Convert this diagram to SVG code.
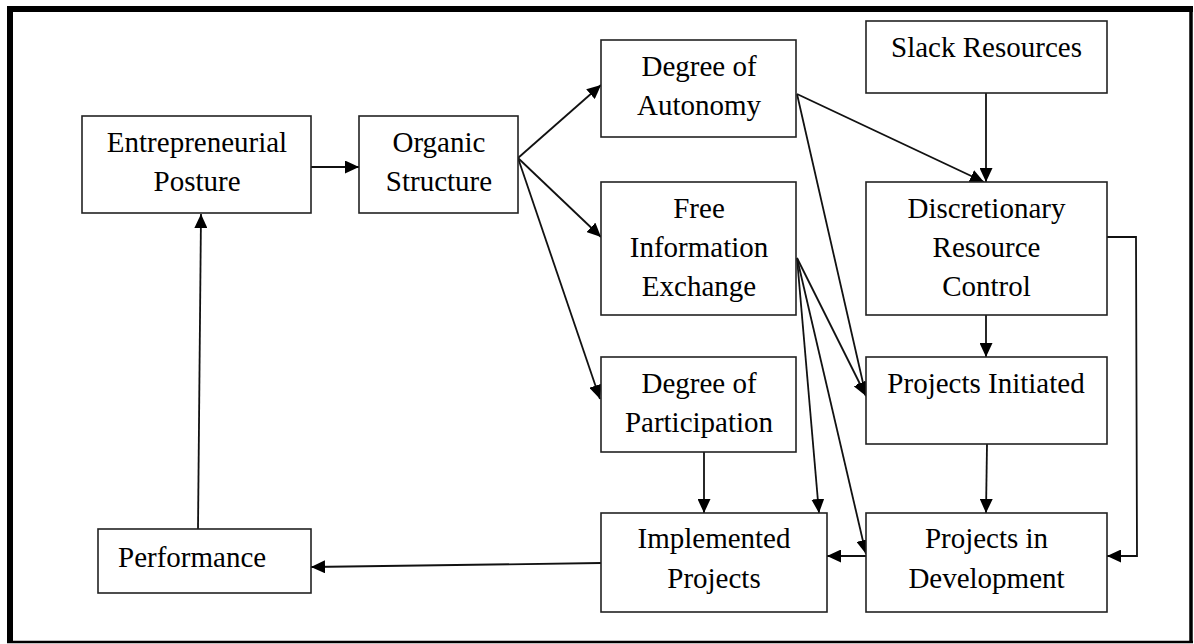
<svg xmlns="http://www.w3.org/2000/svg" width="1194" height="644" viewBox="0 0 1194 644">
<style>
.box{fill:#fff;stroke:#222;stroke-width:1.6}
.t{font-family:"Liberation Serif","Times New Roman",serif;font-size:29px;fill:#000;text-anchor:middle}
.c{fill:none;stroke:#111;stroke-width:1.8}
.frame{stroke:#000;fill:none}
</style>
<defs>
<marker id="ah" markerUnits="userSpaceOnUse" markerWidth="15" markerHeight="13" refX="14" refY="6.5" orient="auto">
<path d="M0,0 L14,6.5 L0,13 z" fill="#000"/>
</marker>
</defs>
<rect width="1194" height="644" fill="#fff"/>
<g id="frame">
<line class="frame" x1="10" y1="6" x2="10" y2="643" stroke-width="6"/>
<line class="frame" x1="7" y1="9" x2="1193" y2="9" stroke-width="6"/>
<line class="frame" x1="1191" y1="6" x2="1191" y2="643" stroke-width="3.5"/>
<line class="frame" x1="7" y1="642" x2="1193" y2="642" stroke-width="2.5"/>
</g>
<g id="connectors">
<line class="c" x1="311" y1="167" x2="359" y2="167" marker-end="url(#ah)"/>
<line class="c" x1="518" y1="158" x2="601" y2="85" marker-end="url(#ah)"/>
<line class="c" x1="518" y1="158" x2="601" y2="237" marker-end="url(#ah)"/>
<line class="c" x1="518" y1="158" x2="600" y2="399" marker-end="url(#ah)"/>
<line class="c" x1="198" y1="529" x2="201" y2="214" marker-end="url(#ah)"/>
<line class="c" x1="601" y1="563" x2="311" y2="567" marker-end="url(#ah)"/>
<line class="c" x1="986" y1="93" x2="986" y2="182" marker-end="url(#ah)"/>
<line class="c" x1="797" y1="94" x2="984" y2="182" marker-end="url(#ah)"/>
<line class="c" x1="797" y1="94" x2="866" y2="396" marker-end="url(#ah)"/>
<line class="c" x1="797" y1="258" x2="866" y2="396" marker-end="url(#ah)"/>
<line class="c" x1="797" y1="258" x2="819" y2="513" marker-end="url(#ah)"/>
<line class="c" x1="797" y1="258" x2="866" y2="554" marker-end="url(#ah)"/>
<line class="c" x1="986" y1="315" x2="986" y2="357" marker-end="url(#ah)"/>
<line class="c" x1="987" y1="444" x2="986" y2="513" marker-end="url(#ah)"/>
<polyline class="c" points="1107,237 1136,237 1137,556 1107,556" marker-end="url(#ah)"/>
<line class="c" x1="704" y1="452" x2="704" y2="513" marker-end="url(#ah)"/>
<line class="c" x1="866" y1="556" x2="827" y2="556" marker-end="url(#ah)"/>
</g>
<g id="entrepreneurial-posture">
<rect class="box" x="82" y="116" width="229" height="97"/>
<text class="t" x="197" y="152">Entrepreneurial</text>
<text class="t" x="197" y="191">Posture</text>
</g>
<g id="organic-structure">
<rect class="box" x="359" y="116" width="159" height="97"/>
<text class="t" x="439" y="152">Organic</text>
<text class="t" x="439" y="191">Structure</text>
</g>
<g id="degree-of-autonomy">
<rect class="box" x="601" y="40" width="195" height="97"/>
<text class="t" x="699" y="76">Degree of</text>
<text class="t" x="699" y="115">Autonomy</text>
</g>
<g id="slack-resources">
<rect class="box" x="866" y="21" width="241" height="72"/>
<text class="t" x="986.5" y="57">Slack Resources</text>
</g>
<g id="free-information-exchange">
<rect class="box" x="601" y="182" width="195" height="133"/>
<text class="t" x="699" y="218">Free</text>
<text class="t" x="699" y="257">Information</text>
<text class="t" x="699" y="296">Exchange</text>
</g>
<g id="discretionary-resource-control">
<rect class="box" x="866" y="182" width="241" height="133"/>
<text class="t" x="986.5" y="218">Discretionary</text>
<text class="t" x="986.5" y="257">Resource</text>
<text class="t" x="986.5" y="296">Control</text>
</g>
<g id="degree-of-participation">
<rect class="box" x="601" y="357" width="195" height="95"/>
<text class="t" x="699" y="393">Degree of</text>
<text class="t" x="699" y="432">Participation</text>
</g>
<g id="projects-initiated">
<rect class="box" x="866" y="357" width="241" height="87"/>
<text class="t" x="986" y="393">Projects Initiated</text>
</g>
<g id="implemented-projects">
<rect class="box" x="601" y="513" width="226" height="99"/>
<text class="t" x="714" y="548">Implemented</text>
<text class="t" x="714" y="588">Projects</text>
</g>
<g id="projects-in-development">
<rect class="box" x="866" y="513" width="241" height="99"/>
<text class="t" x="986.5" y="548">Projects in</text>
<text class="t" x="986.5" y="588">Development</text>
</g>
<g id="performance">
<rect class="box" x="98" y="529" width="213" height="64"/>
<text class="t" x="118" y="567" style="text-anchor:start">Performance</text>
</g>
</svg>
